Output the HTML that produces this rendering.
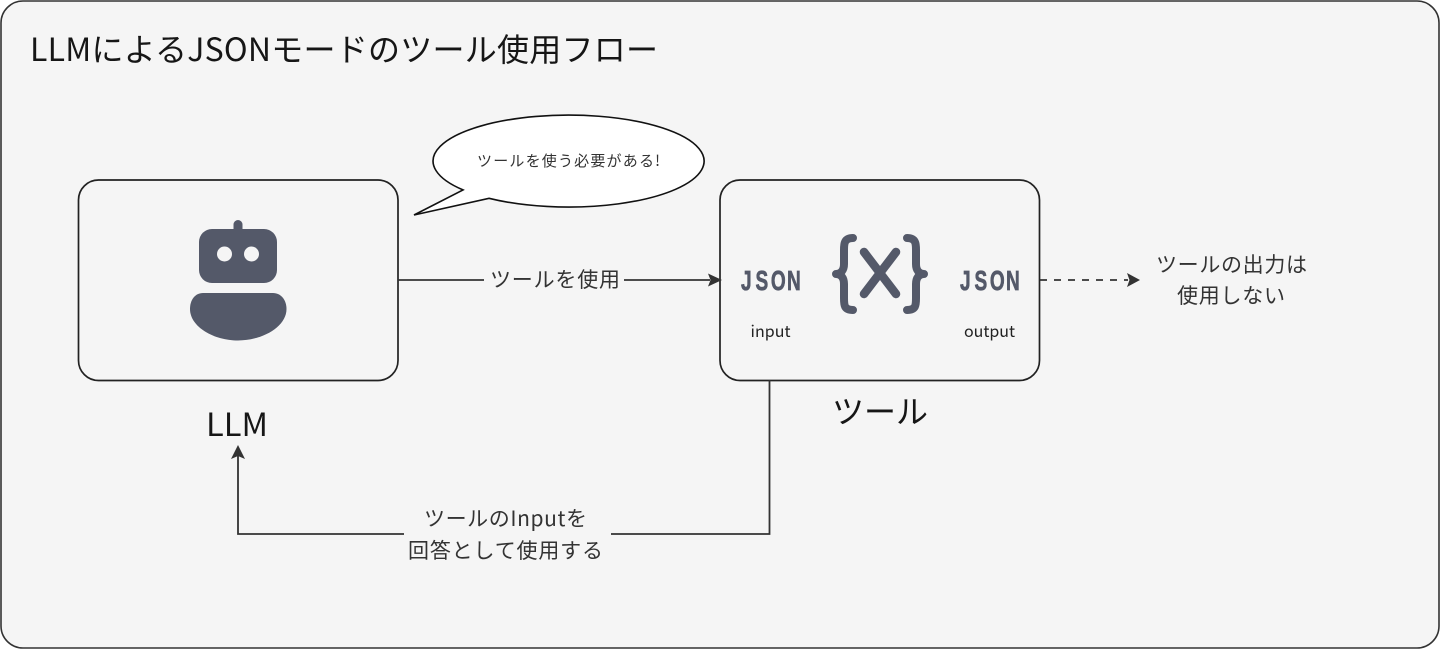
<!DOCTYPE html>
<html lang="ja">
<head>
<meta charset="utf-8">
<style>
html,body{margin:0;padding:0;background:#fff;width:1440px;height:649px;overflow:hidden}
svg{display:block}
text{font-family:"Liberation Sans","Noto Sans CJK JP",sans-serif}
.j{font-family:"Noto Sans CJK JP","Liberation Sans",sans-serif}
</style>
</head>
<body>
<svg width="1440" height="649" viewBox="0 0 1440 649" xmlns="http://www.w3.org/2000/svg">
<rect x="1" y="1" width="1438" height="647" rx="22" fill="#f5f5f5" stroke="#333" stroke-width="1.6"/>
<text class="j" x="30" y="61" font-size="32" fill="#161616" textLength="628" lengthAdjust="spacing">LLMによるJSONモードのツール使用フロー</text>

<rect x="78.500" y="180" width="319.500" height="200.500" rx="20" fill="#f5f5f5" stroke="#222" stroke-width="1.700"/>
<rect x="720" y="180" width="319.500" height="200.500" rx="20" fill="#f5f5f5" stroke="#222" stroke-width="1.700"/>

<path d="M463 189.900 A135.500 46 0 1 1 489 198.300 L414 215 Z" fill="#fff" stroke="#111" stroke-width="1.600" stroke-linejoin="miter"/>
<text class="j" x="477" y="166" font-size="15" fill="#333" textLength="183" lengthAdjust="spacing">ツールを使う必要がある!</text>

<g fill="#545969">
<rect x="233.500" y="220" width="9" height="14" rx="4.500"/>
<rect x="199" y="229" width="78" height="54" rx="13"/>
<path d="M203 293 H273 C281 293 286.500 300 286.500 309 C286.500 327 262 340.500 238 340.500 C214 340.500 190 327 190 309 C190 300 195 293 203 293 Z"/>
</g>
<circle cx="224.500" cy="254" r="7.500" fill="#f5f5f5"/>
<circle cx="251.500" cy="254" r="7.500" fill="#f5f5f5"/>
<text class="j" x="206" y="436" font-size="32" fill="#161616" textLength="62" lengthAdjust="spacingAndGlyphs">LLM</text>

<g fill="#545969" stroke="#545969" stroke-width="0.700" font-weight="700" font-size="28">
<text transform="translate(741,290) scale(.68,1)" x="0 21.300 44 67.600" y="0">JSON</text>
<text transform="translate(960,290) scale(.68,1)" x="0 21.300 44 67.600" y="0">JSON</text>
</g>
<g fill="none" stroke="#545969" stroke-width="8" stroke-linecap="round" stroke-linejoin="round">
<path d="M853 238 C844 238 844 244 844 250 V264 C844 270 841 274 836 274 C841 274 844 278 844 284 V298 C844 305 844 310 853 310"/>
<path d="M907 238 C916 238 916 244 916 250 V264 C916 270 919 274 924 274 C919 274 916 278 916 284 V298 C916 305 916 310 907 310"/>
<path d="M864 252 L896 294 M896 252 L864 294" stroke-width="8.500"/>
</g>
<text class="j" x="770.500" y="337" font-size="16" fill="#222" text-anchor="middle" textLength="40" lengthAdjust="spacing">input</text>
<text class="j" x="989.500" y="337" font-size="16" fill="#222" text-anchor="middle" textLength="51" lengthAdjust="spacing">output</text>
<text class="j" x="832" y="423" font-size="32" fill="#161616" textLength="96" lengthAdjust="spacing">ツール</text>

<g stroke="#333" stroke-width="1.800" fill="none">
<path d="M398 280 H484"/>
<path d="M624 280 H710"/>
<path d="M1040 280 H1128" stroke-dasharray="7 7"/>
<path d="M769.500 380 V534 H611"/>
<path d="M404 534 H238 V456"/>
</g>
<g fill="#333">
<path d="M722 280 L708 273.500 L710.500 280 L708 286.500 Z"/>
<path d="M1140 280 L1127 273 L1129.500 280 L1127 287 Z"/>
<path d="M238 445 L231 459 L238 456 L245 459 Z"/>
</g>
<text class="j" x="490" y="287" font-size="21" fill="#333" textLength="130" lengthAdjust="spacing">ツールを使用</text>
<text class="j" x="1156" y="272" font-size="21" fill="#333" textLength="151" lengthAdjust="spacing">ツールの出力は</text>
<text class="j" x="1177" y="303" font-size="21" fill="#333" textLength="108" lengthAdjust="spacing">使用しない</text>
<text class="j" x="424" y="526" font-size="21" fill="#333" textLength="163" lengthAdjust="spacing">ツールのInputを</text>
<text class="j" x="408" y="558" font-size="21" fill="#333" textLength="195" lengthAdjust="spacing">回答として使用する</text>
</svg>
</body>
</html>
